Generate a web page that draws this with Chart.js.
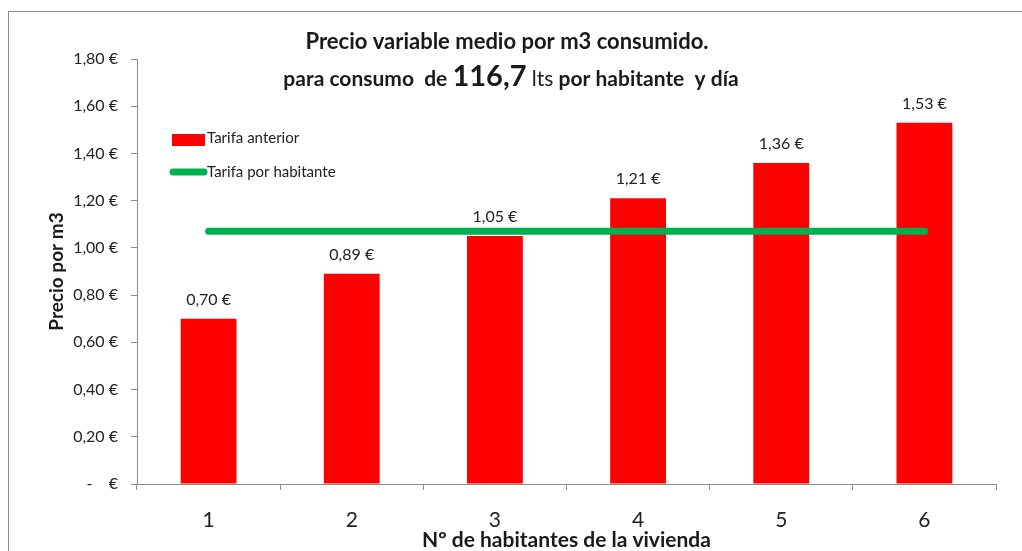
<!DOCTYPE html>
<html lang="es">
<head>
<meta charset="utf-8">
<title>Precio variable medio por m3 consumido</title>
<script src="https://cdn.jsdelivr.net/npm/chart.js@4.4.1/dist/chart.umd.min.js"></script>
<style>
    html, body { margin: 0; padding: 0; background: #fff; }
    #wrap { position: relative; width: 1022px; height: 551px; }
</style>
</head>
<body>
<div id="wrap"><canvas id="grafico"></canvas></div>
<script>
// Datos del gráfico
const habitantes = ['1', '2', '3', '4', '5', '6'];
const tarifaAnterior = [0.70, 0.89, 1.05, 1.21, 1.36, 1.53];
const tarifaPorHabitante = [1.07, 1.07, 1.07, 1.07, 1.07, 1.07];
const yMax = 1.8;
const yPaso = 0.2;

const FUENTE = 'Lato, "Open Sans", sans-serif';
const ROJO = '#ff0000';
const VERDE = '#00b050';
const GRIS = '#8c8c8c';

function formatoEuro(v) {
    if (Math.abs(v) < 1e-9) return '-    €';
    return v.toFixed(2).replace('.', ',') + ' €';
}

/**
 * Marco, título y leyenda dibujados a mano (como en la hoja de Excel)
 */
const decoracion = {
    id: 'decoracion',
    beforeDraw(chart) {
        const ctx = chart.ctx;
        ctx.save();
        ctx.fillStyle = '#fff';
        ctx.fillRect(0, 0, chart.width, chart.height);
        ctx.strokeStyle = GRIS;
        ctx.lineWidth = 1;
        ctx.strokeRect(8.5, 11.5, chart.width + 20, chart.height + 20);
        ctx.restore();
    },
    afterDraw(chart) {
        const ctx = chart.ctx;
        ctx.save();
        ctx.fillStyle = '#1a1a1a';
        ctx.textBaseline = 'middle';

        // Título, línea 1
        ctx.font = 'bold 22px ' + FUENTE;
        ctx.textAlign = 'center';
        ctx.fillText('Precio variable medio por m3 consumido.', 507, 42);

        // Título, línea 2 (con la cifra más grande)
        const partes = [
            { t: 'para consumo  de ', f: 'bold 21px ' + FUENTE },
            { t: '116,7', f: 'bold 29px ' + FUENTE },
            { t: ' lts', f: '21px ' + FUENTE },
            { t: ' por habitante  y día', f: 'bold 21px ' + FUENTE }
        ];
        let total = 0;
        partes.forEach(p => { ctx.font = p.f; p.w = ctx.measureText(p.t).width; total += p.w; });
        let x = 511 - total / 2;
        ctx.textAlign = 'left';
        ctx.textBaseline = 'alphabetic';
        partes.forEach(p => { ctx.font = p.f; ctx.fillText(p.t, x, 86); x += p.w; });

        // Leyenda
        ctx.textBaseline = 'middle';
        ctx.font = '15px ' + FUENTE;
        ctx.fillStyle = ROJO;
        ctx.fillRect(172, 134, 33, 12);
        ctx.strokeStyle = VERDE;
        ctx.lineWidth = 7;
        ctx.lineCap = 'round';
        ctx.beginPath();
        ctx.moveTo(173, 172);
        ctx.lineTo(204, 172);
        ctx.stroke();
        ctx.fillStyle = '#222';
        ctx.fillText(chart.data.datasets[0].label, 207, 138);
        ctx.fillText(chart.data.datasets[1].label, 207, 172);

        // Etiquetas de valor encima de las barras
        const meta = chart.getDatasetMeta(0);
        ctx.font = '16px ' + FUENTE;
        ctx.textAlign = 'center';
        meta.data.forEach((bar, i) => {
            ctx.fillText(formatoEuro(chart.data.datasets[0].data[i]), bar.x, bar.y - 19);
        });
        ctx.restore();
    }
};

new Chart(document.getElementById('grafico'), {
    data: {
        labels: habitantes,
        datasets: [
            {
                type: 'line',
                label: 'Tarifa por habitante',
                data: tarifaPorHabitante,
                borderColor: VERDE,
                borderWidth: 7,
                borderCapStyle: 'round',
                pointRadius: 0,
                fill: false,
                order: 0
            },
            {
                type: 'bar',
                label: 'Tarifa anterior',
                data: tarifaAnterior,
                backgroundColor: ROJO,
                categoryPercentage: 1,
                barPercentage: 0.39,
                order: 1
            }
        ].reverse()
    },
    options: {
        responsive: true,
        maintainAspectRatio: false,
        animation: false,
        layout: { padding: { top: 59, right: 26, bottom: 0, left: 0 } },
        plugins: {
            legend: { display: false },
            title: { display: false },
            tooltip: { enabled: false }
        },
        scales: {
            x: {
                offset: true,
                grid: { offset: true, drawOnChartArea: false, drawTicks: true, tickLength: 6, color: GRIS },
                border: { color: GRIS },
                ticks: { color: '#222', font: { family: FUENTE, size: 21 }, padding: 18 },
                title: {
                    display: true,
                    text: 'Nº de habitantes de la vivienda',
                    color: '#1a1a1a',
                    font: { family: FUENTE, size: 21, weight: 'bold', lineHeight: 1 },
                    padding: 0
                },
                afterFit(scale) { scale.height = 67; }
            },
            y: {
                min: 0,
                max: yMax,
                grid: { drawOnChartArea: false, drawTicks: true, tickLength: 6, color: GRIS },
                border: { color: GRIS },
                ticks: {
                    stepSize: yPaso,
                    color: '#222',
                    padding: 13,
                    font: { family: FUENTE, size: 16 },
                    callback: v => formatoEuro(v)
                },
                title: {
                    display: true,
                    text: 'Precio por m3',
                    color: '#1a1a1a',
                    font: { family: FUENTE, size: 19, weight: 'bold', lineHeight: 1 },
                    padding: { top: 47, bottom: 0 }
                },
                afterFit(scale) { scale.width = 137; }
            }
        }
    },
    plugins: [decoracion]
});
</script>
</body>
</html>
